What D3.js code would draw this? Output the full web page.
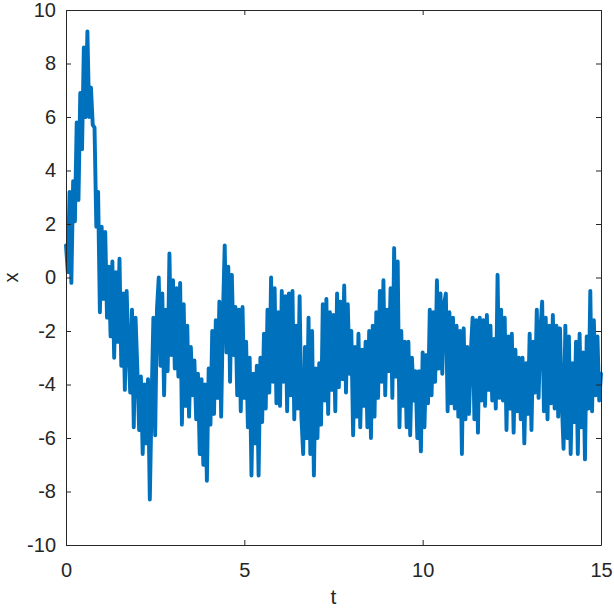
<!DOCTYPE html>
<html>
<head>
<meta charset="utf-8">
<script src="https://cdn.jsdelivr.net/npm/d3@7"></script>
<style>
  body { margin: 0; background: #fff; }
  text { font-family: Arial, "Liberation Sans", Helvetica, sans-serif; fill: #262626; }
</style>
</head>
<body>
<script>
// sampling step of the series (t = i * dt)
var dt = 0.05;

// x(t), one row per unit of t
var xValues = [
  // t 0 - 0.95
  1.2, 0.2, 3.2, -0.2, 3.6, 2.1, 5.8, 2.9, 6.9, 4.8, 8.6, 6.0, 9.2, 6.0, 7.1, 5.7, 5.6, 1.9, 3.2, -1.3,
  // t 1 - 1.95
  1.9, -0.8, 1.7, -1.5, 0.4, -2.2, 0.6, -3.0, 0.2, -2.4, 0.7, -3.3, -0.6, -4.2, -0.5, -2.6, -4.3, -1.2, -5.6, -1.5,
  // t 2 - 2.95
  -3.4, -5.7, -3.7, -6.6, -4.0, -6.2, -3.8, -8.3, -4.6, -1.5, -5.9, -1.2, 0.0, -3.3, -0.6, -4.4, -1.2, -3.5, 0.9, -2.9,
  // t 3 - 3.95
  -0.1, -3.4, -0.4, -3.7, -0.2, -5.5, -1.0, -4.8, -1.8, -5.2, -2.6, -4.4, -3.1, -5.3, -3.6, -6.6, -3.8, -7.0, -4.0, -7.6,
  // t 4 - 4.95
  -3.4, -5.5, -2.0, -5.1, -1.6, -4.5, -0.9, -5.2, -1.4, 1.2, -2.8, 0.4, -3.9, 0.1, -2.9, -1.1, -4.4, -1.2, -5.0, -1.1,
  // t 5 - 5.95
  -4.5, -2.4, -5.6, -3.0, -7.4, -3.6, -6.2, -3.3, -7.4, -3.0, -5.4, -2.1, -4.9, -1.2, -4.3, 0.0, -3.9, -0.4, -4.7, -1.3,
  // t 6 - 6.95
  -4.8, -0.5, -3.9, -0.7, -5.0, -0.6, -4.4, -0.5, -5.3, -1.8, -4.9, -0.7, -5.2, -6.6, -2.6, -6.0, -1.5, -6.6, -2.0, -7.4,
  // t 7 - 7.95
  -3.4, -6.0, -3.2, -5.5, -1.0, -4.6, -0.8, -5.1, -1.3, -4.2, -1.4, -5.0, -0.6, -4.1, -0.9, -3.8, -0.3, -4.3, -1.0, -3.6,
  // t 8 - 8.95
  -2.0, -5.9, -2.6, -5.2, -2.1, -5.6, -2.7, -4.8, -2.4, -5.6, -2.0, -6.0, -1.8, -5.2, -1.3, -4.5, -0.5, -3.9, -0.1, -4.4,
  // t 9 - 9.95
  -1.2, -3.5, -0.4, -4.5, 1.1, -3.7, 0.6, -5.6, -2.0, -4.8, -2.4, -5.6, -2.4, -5.9, -3.0, -4.6, -3.5, -6.0, -3.5, -6.5,
  // t 10 - 10.95
  -2.8, -5.6, -2.9, -4.7, -1.2, -4.4, -1.3, -3.9, -0.1, -3.4, -0.6, -3.6, -1.0, -0.6, -5.0, -1.3, -4.7, -1.5, -4.9, -1.8,
  // t 11 - 11.95
  -5.2, -2.0, -6.6, -1.9, -5.3, -2.6, -5.1, -2.8, -1.5, -5.3, -1.6, -5.8, -1.5, -4.6, -1.6, -4.8, -1.4, -4.2, -1.8, -4.6,
  // t 12 - 12.95
  -2.3, -4.9, 0.1, -4.5, -1.2, -4.6, -1.5, -5.7, -2.2, -4.9, -2.1, -5.8, -2.7, -5.0, -3.0, -5.3, -3.0, -6.2, -3.2, -5.1,
  // t 13 - 13.95
  -2.1, -5.7, -2.4, -4.3, -1.2, -4.5, -2.0, -0.9, -5.0, -1.5, -5.3, -1.8, -4.7, -1.4, -4.9, -1.8, -5.2, -1.9, -4.6, -6.4,
  // t 14 - 15
  -1.8, -6.0, -2.2, -6.6, -3.2, -5.4, -2.4, -6.6, -2.1, -5.6, -2.8, -6.8, -2.2, -4.9, -0.5, -5.0, -1.6, -4.4, -2.2, -4.6, -3.6
];

var xTicks = [0, 5, 10, 15];
var yTicks = [-10, -8, -6, -4, -2, 0, 2, 4, 6, 8, 10];

var W = 614, H = 608;
var margin = {top: 10, right: 13, bottom: 63, left: 66};
var width = W - margin.left - margin.right,
    height = H - margin.top - margin.bottom;

var svg = d3.select("body").append("svg")
    .attr("width", W)
    .attr("height", H);

var g = svg.append("g")
    .attr("transform", "translate(" + margin.left + "," + margin.top + ")");

var x = d3.scaleLinear().domain([0, 15]).range([0, width]);
var y = d3.scaleLinear().domain([-10, 10]).range([height, 0]);

var data = xValues.map(function(v, i) { return {t: i * dt, v: v}; });

// the series
var line = d3.line()
    .x(function(d) { return x(d.t); })
    .y(function(d) { return y(d.v); });

g.append("path")
    .datum(data)
    .attr("d", line)
    .attr("fill", "none")
    .attr("stroke", "#0072BD")
    .attr("stroke-width", 3.9)
    .attr("stroke-linejoin", "round")
    .attr("stroke-linecap", "round");

// axes, ticks pointing inward like matlab
function styleAxis(sel) {
    sel.select(".domain").attr("stroke", "#262626");
    sel.selectAll(".tick line").attr("stroke", "#262626");
    sel.selectAll(".tick text")
        .style("font-size", "20px")
        .attr("fill", "#262626");
}

g.append("g")
    .attr("transform", "translate(0," + height + ")")
    .call(d3.axisBottom(x).tickValues(xTicks).tickSize(-5).tickSizeOuter(0).tickPadding(18)
        .tickFormat(function(d) { return String(d); }))
    .call(styleAxis);

g.append("g")
    .call(d3.axisLeft(y).tickValues(yTicks).tickSize(-5).tickSizeOuter(0).tickPadding(10)
        .tickFormat(function(d) { return String(d); }))
    .call(styleAxis);

g.append("g")
    .call(d3.axisTop(x).tickValues(xTicks).tickSize(-5).tickSizeOuter(0).tickFormat(""))
    .call(styleAxis);

g.append("g")
    .attr("transform", "translate(" + width + ",0)")
    .call(d3.axisRight(y).tickValues(yTicks).tickSize(-5).tickSizeOuter(0).tickFormat(""))
    .call(styleAxis);

// axis labels
svg.append("text")
    .attr("x", margin.left + width / 2)
    .attr("y", 604)
    .attr("text-anchor", "middle")
    .style("font-size", "21px")
    .text("t");

svg.append("text")
    .attr("transform", "translate(18," + (margin.top + height / 2) + ") rotate(-90)")
    .attr("text-anchor", "middle")
    .style("font-size", "20px")
    .text("x");
</script>
</body>
</html>
